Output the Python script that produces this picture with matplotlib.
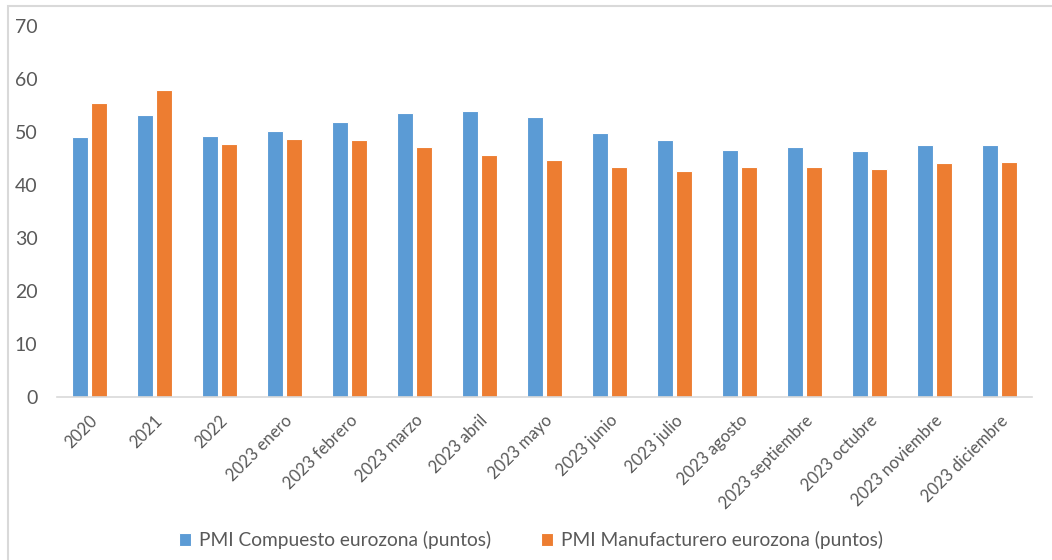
import matplotlib
matplotlib.use("Agg")
import matplotlib.pyplot as plt
import numpy as np
from matplotlib.patches import Rectangle

categories = ["2020", "2021", "2022", "2023 enero", "2023 febrero", "2023 marzo",
              "2023 abril", "2023 mayo", "2023 junio", "2023 julio", "2023 agosto",
              "2023 septiembre", "2023 octubre", "2023 noviembre", "2023 diciembre"]
pmi_compuesto = [49.2, 53.3, 49.3, 50.3, 52.0, 53.7, 54.1, 52.8, 49.9, 48.6,
                 46.7, 47.2, 46.5, 47.6, 47.6]
pmi_manufacturero = [55.5, 58.0, 47.8, 48.8, 48.5, 47.3, 45.8, 44.8, 43.4, 42.7,
                     43.5, 43.4, 43.1, 44.2, 44.4]
series_labels = ["PMI Compuesto eurozona (puntos)", "PMI Manufacturero eurozona (puntos)"]
y_ticks = [0, 10, 20, 30, 40, 50, 60, 70]

BLUE = "#5B9BD5"
ORANGE = "#ED7D31"
TEXT = "#595959"

plt.rcParams["font.family"] = ["Lato", "DejaVu Sans"]

fig = plt.figure(figsize=(10.52, 5.6), dpi=100)
W, H = 1052, 560

# chart frame (light gray outline)
fig.patches.append(Rectangle((7.5 / W, -0.1), 1.2, 1 - 5.5 / H + 0.1,
                             transform=fig.transFigure, fill=False,
                             edgecolor="#D9D9D9", linewidth=1.5, zorder=0))

ax = fig.add_axes([57 / W, 1 - 397 / H, (1032 - 57) / W, (397 - 26.4) / H])

x = np.arange(len(categories))
bw = 0.255
ax.bar(x - 0.145, pmi_compuesto, width=bw, color=BLUE, edgecolor="white",
       linewidth=0.8, label=series_labels[0], zorder=2)
ax.bar(x + 0.145, pmi_manufacturero, width=bw, color=ORANGE, edgecolor="white",
       linewidth=0.8, label=series_labels[1], zorder=2)

ax.set_xlim(-0.5, len(categories) - 0.5)
ax.set_ylim(0, 70)
ax.set_yticks(y_ticks)
ax.set_yticklabels([str(v) for v in y_ticks], fontsize=14, color=TEXT)
ax.tick_params(axis="y", length=0, pad=14)

ax.set_xticks(x)
ax.set_xticklabels(categories, rotation=45, ha="right", rotation_mode="anchor",
                   fontsize=12, color=TEXT)
ax.tick_params(axis="x", length=0, pad=11)

for side in ["top", "right", "left"]:
    ax.spines[side].set_visible(False)
ax.spines["bottom"].set_color("#D9D9D9")
ax.spines["bottom"].set_linewidth(1.2)

leg = fig.legend(loc="center", bbox_to_anchor=(531 / W, 1 - 540 / H), ncol=2,
                 frameon=False, fontsize=13.8, handlelength=0.65, handleheight=0.65,
                 handletextpad=0.4, columnspacing=2.6)
for t in leg.get_texts():
    t.set_color(TEXT)

fig.savefig("out.png", dpi=100, facecolor="white")
